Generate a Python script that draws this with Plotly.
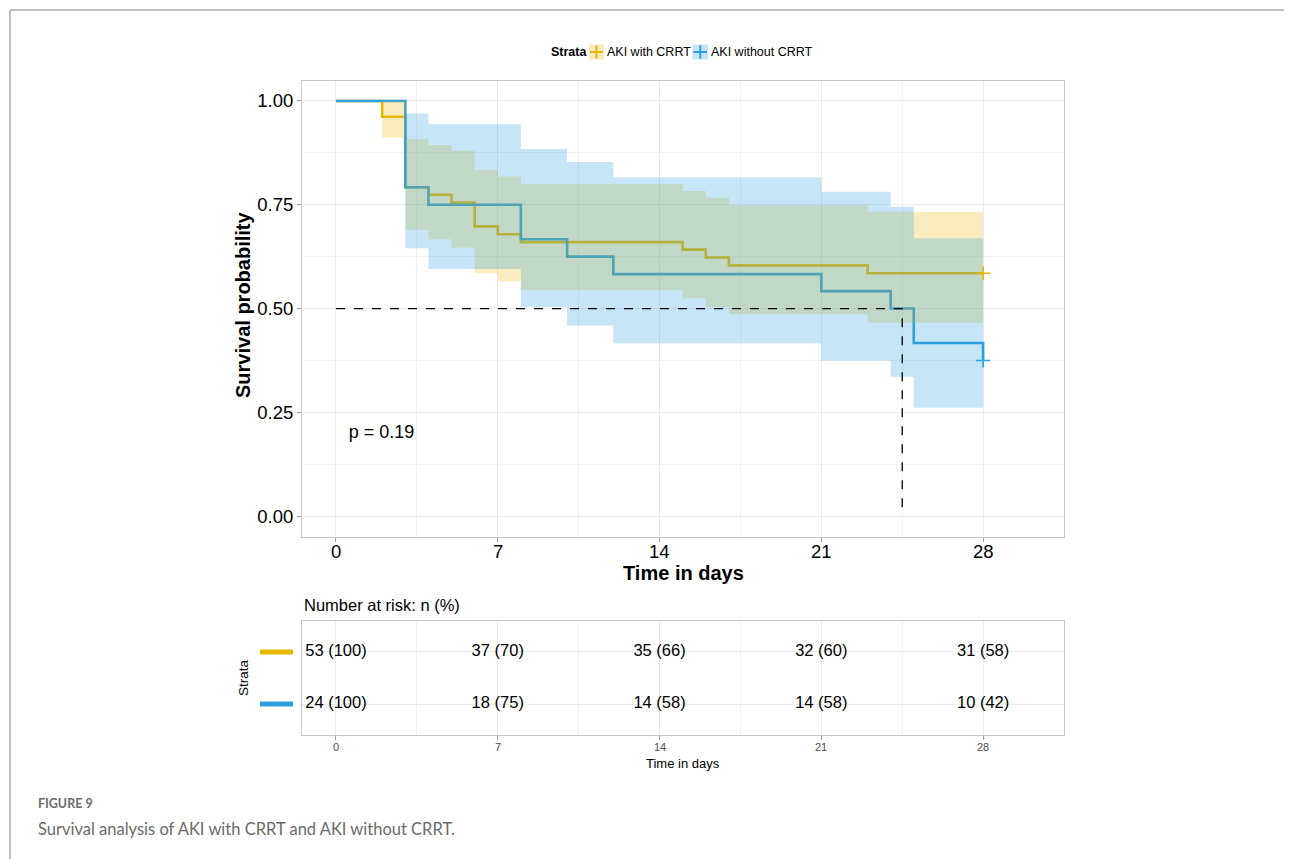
import plotly.graph_objects as go

# ---------------- data ----------------
strata_names = ["AKI with CRRT", "AKI without CRRT"]

crrt_time = [0, 2, 3, 4, 5, 6, 7, 8, 15, 16, 17, 23, 28]
crrt_surv = [1.0, 0.962, 0.792, 0.774, 0.755, 0.698, 0.679, 0.660, 0.642, 0.623, 0.604, 0.585, 0.585]
crrt_upper = [1.0, 1.0, 0.908, 0.894, 0.880, 0.834, 0.818, 0.800, 0.783, 0.767, 0.749, 0.733, 0.733]
crrt_lower = [1.0, 0.912, 0.689, 0.667, 0.647, 0.585, 0.565, 0.545, 0.525, 0.504, 0.486, 0.466, 0.466]

nocrrt_time = [0, 3, 4, 8, 10, 12, 21, 24, 25, 28]
nocrrt_surv = [1.0, 0.792, 0.750, 0.667, 0.625, 0.583, 0.542, 0.500, 0.417, 0.375]
nocrrt_upper = [1.0, 0.970, 0.944, 0.884, 0.853, 0.816, 0.781, 0.745, 0.669, 0.669]
nocrrt_lower = [1.0, 0.645, 0.595, 0.504, 0.459, 0.416, 0.374, 0.336, 0.261, 0.261]

censor_time = [28, 28]
censor_surv = [0.585, 0.375]

median_time = 24.5
median_surv = 0.5
p_value_text = "p = 0.19"

x_ticks = [0, 7, 14, 21, 28]
x_tick_labels = ["0", "7", "14", "21", "28"]
y_ticks = [0.0, 0.25, 0.5, 0.75, 1.0]
y_tick_labels = ["0.00", "0.25", "0.50", "0.75", "1.00"]

risk_times = [0, 7, 14, 21, 28]
risk_crrt_n = [53, 37, 35, 32, 31]
risk_crrt_pct = [100, 70, 66, 60, 58]
risk_nocrrt_n = [24, 18, 14, 14, 10]
risk_nocrrt_pct = [100, 75, 58, 58, 42]

# ---------------- style ----------------
W, H = 1292, 859
OFF = 8  # page body margin
YEL = "#E7B800"
BLU = "#2E9FDF"
YEL_FILL = "rgba(231,184,0,0.25)"
BLU_FILL = "rgba(46,159,223,0.27)"
FONT = "Liberation Sans, Arial, sans-serif"
GRID = "#EBEBEB"
BORDER = "#C8C8C8"


def px(x):
    return (x - OFF) / W


def py(y):
    return 1 - (y - OFF) / H


fig = go.Figure()

# survival lines (drawn below ribbons, as in survminer)
fig.add_trace(go.Scatter(x=crrt_time, y=crrt_surv, mode="lines", line=dict(color=YEL, width=2.6, shape="hv"),
                         showlegend=False, hoverinfo="skip"))
fig.add_trace(go.Scatter(x=nocrrt_time, y=nocrrt_surv, mode="lines", line=dict(color=BLU, width=2.6, shape="hv"),
                         showlegend=False, hoverinfo="skip"))

# confidence ribbons
for t, lo, up, fc in [(crrt_time, crrt_lower, crrt_upper, YEL_FILL),
                      (nocrrt_time, nocrrt_lower, nocrrt_upper, BLU_FILL)]:
    fig.add_trace(go.Scatter(x=t, y=lo, mode="lines", line=dict(width=0, shape="hv"),
                             showlegend=False, hoverinfo="skip"))
    fig.add_trace(go.Scatter(x=t, y=up, mode="lines", line=dict(width=0, shape="hv"),
                             fill="tonexty", fillcolor=fc, showlegend=False, hoverinfo="skip"))

# censor marks
fig.add_trace(go.Scatter(x=censor_time, y=censor_surv, mode="markers",
                         marker=dict(symbol="cross-thin", size=10, line=dict(width=1.6, color=[YEL, BLU])),
                         showlegend=False, hoverinfo="skip"))

# median dashed lines
fig.add_trace(go.Scatter(x=[0, median_time, median_time], y=[median_surv, median_surv, 0], mode="lines",
                         line=dict(color="black", width=1.3, dash="dash"), showlegend=False, hoverinfo="skip"))

# p-value
fig.add_trace(go.Scatter(x=[0.55], y=[0.2], mode="text", text=[p_value_text], textposition="middle right",
                         textfont=dict(family=FONT, size=18, color="black"), showlegend=False, hoverinfo="skip"))

# risk table text
crrt_labels = [f"{n} ({p})" for n, p in zip(risk_crrt_n, risk_crrt_pct)]
nocrrt_labels = [f"{n} ({p})" for n, p in zip(risk_nocrrt_n, risk_nocrrt_pct)]
fig.add_trace(go.Scatter(x=risk_times, y=[2] * len(risk_times), mode="text", text=crrt_labels,
                         textfont=dict(family=FONT, size=16.5, color="black"), xaxis="x2", yaxis="y2",
                         showlegend=False, hoverinfo="skip"))
fig.add_trace(go.Scatter(x=risk_times, y=[1] * len(risk_times), mode="text", text=nocrrt_labels,
                         textfont=dict(family=FONT, size=16.5, color="black"), xaxis="x2", yaxis="y2",
                         showlegend=False, hoverinfo="skip"))

x_range = [-1.47, 31.5]

axis_common = dict(showline=True, linecolor=BORDER, linewidth=1, mirror=True, zeroline=False,
                   tickcolor="#A0A0A0", ticklen=4, gridcolor=GRID, gridwidth=1)

fig.update_layout(
    width=W, height=H, margin=dict(l=0, r=0, t=0, b=0),
    paper_bgcolor="white", plot_bgcolor="white",
    font=dict(family=FONT, color="black"),
    xaxis=dict(domain=[px(302), px(1064)], range=x_range, tickvals=x_ticks, showticklabels=False, ticks="outside",
               minor=dict(dtick=3.5, tick0=0, showgrid=True, gridcolor="#F2F2F2", ticks=""),
               anchor="y", **axis_common),
    yaxis=dict(domain=[py(536.5), py(81)], range=[-0.049, 1.048], tickvals=y_ticks, ticktext=y_tick_labels,
               tickfont=dict(size=18.5, color="black"), ticks="outside",
               minor=dict(dtick=0.125, tick0=0, showgrid=True, gridcolor="#F2F2F2", ticks=""),
               anchor="x", **axis_common),
    xaxis2=dict(domain=[px(302), px(1064)], range=x_range, tickvals=x_ticks, showticklabels=False, ticks="outside",
                minor=dict(dtick=3.5, tick0=0, showgrid=True, gridcolor="#F2F2F2", ticks=""),
                anchor="y2", **axis_common),
    yaxis2=dict(domain=[py(735.3), py(620.7)], range=[0.4, 2.6], tickvals=[1, 2], showticklabels=False,
                ticks="", anchor="x2", **axis_common),
)

annotations = []
shapes = []

# axis tick labels and titles
for tv, tl in zip(x_ticks, x_tick_labels):
    annotations.append(dict(x=tv, xref="x", y=py(551.5), yref="paper", text=tl, showarrow=False,
                            xanchor="center", yanchor="middle", font=dict(size=18.5, family=FONT, color="black")))
    annotations.append(dict(x=tv, xref="x2", y=py(746.5), yref="paper", text=tl, showarrow=False,
                            xanchor="center", yanchor="middle", font=dict(size=11, family=FONT, color="#4D4D4D")))
annotations.append(dict(x=px(683), y=py(573), xref="paper", yref="paper", text="<b>Time in days</b>",
                        showarrow=False, xanchor="center", yanchor="middle",
                        font=dict(size=20, family=FONT, color="black")))
annotations.append(dict(x=px(243), y=py(305), xref="paper", yref="paper", text="<b>Survival probability</b>",
                        textangle=-90, showarrow=False, xanchor="center", yanchor="middle",
                        font=dict(size=20, family=FONT, color="black")))
annotations.append(dict(x=px(683), y=py(763), xref="paper", yref="paper", text="Time in days",
                        showarrow=False, xanchor="center", yanchor="middle",
                        font=dict(size=13, family=FONT, color="black")))

# legend
annotations.append(dict(x=px(588.5), y=py(52), xref="paper", yref="paper", text="<b>Strata</b>", showarrow=False,
                        xanchor="right", yanchor="middle", font=dict(size=12.5, family=FONT, color="black")))
leg_items = [(589, 604, YEL_FILL, YEL, strata_names[0], 605), (692.5, 708, BLU_FILL, BLU, strata_names[1], 709)]
for x0, x1, fc, lc, name, tx in leg_items:
    shapes.append(dict(type="rect", xref="paper", yref="paper", x0=px(x0), x1=px(x1), y0=py(59.5), y1=py(44.5),
                       fillcolor=fc, line=dict(width=0)))
    shapes.append(dict(type="line", xref="paper", yref="paper", x0=px(x0 + 1), x1=px(x1 - 1), y0=py(52), y1=py(52),
                       line=dict(color=lc, width=2)))
    shapes.append(dict(type="line", xref="paper", yref="paper", x0=px((x0 + x1) / 2), x1=px((x0 + x1) / 2),
                       y0=py(45.5), y1=py(58.5), line=dict(color=lc, width=2)))
    annotations.append(dict(x=px(tx), y=py(52), xref="paper", yref="paper", text=name, showarrow=False,
                            xanchor="left", yanchor="middle", font=dict(size=12.5, family=FONT, color="black")))

# risk table header and strata label
annotations.append(dict(x=px(302), y=py(605), xref="paper", yref="paper", text="Number at risk: n (%)",
                        showarrow=False, xanchor="left", yanchor="middle",
                        font=dict(size=16.5, family=FONT, color="black")))
annotations.append(dict(x=px(243), y=py(678), xref="paper", yref="paper", text="Strata", textangle=-90,
                        showarrow=False, xanchor="center", yanchor="middle",
                        font=dict(size=13.5, family=FONT, color="black")))
for yv, col in [(2, YEL), (1, BLU)]:
    shapes.append(dict(type="line", xref="paper", yref="y2", x0=px(260), x1=px(293), y0=yv, y1=yv,
                       line=dict(color=col, width=5)))

# page frame
shapes.append(dict(type="line", xref="paper", yref="paper", x0=px(10), x1=1, y0=py(10), y1=py(10),
                   line=dict(color="#ABABAB", width=1.5)))
shapes.append(dict(type="line", xref="paper", yref="paper", x0=px(10), x1=px(10), y0=py(10), y1=0,
                   line=dict(color="#ABABAB", width=1.5)))

# caption
annotations.append(dict(x=px(36), y=py(803), xref="paper", yref="paper", text="<b>FIGURE 9</b>", showarrow=False,
                        xanchor="left", yanchor="middle",
                        font=dict(size=12.5, family="Lato, sans-serif", color="#6B6B6B")))
annotations.append(dict(x=px(36), y=py(829), xref="paper", yref="paper",
                        text="Survival analysis of AKI with CRRT and AKI without CRRT.", showarrow=False,
                        xanchor="left", yanchor="middle",
                        font=dict(size=16.5, family="Lato, sans-serif", color="#6B6B6B")))

fig.update_layout(annotations=annotations, shapes=shapes)

fig.write_html("out.html")
